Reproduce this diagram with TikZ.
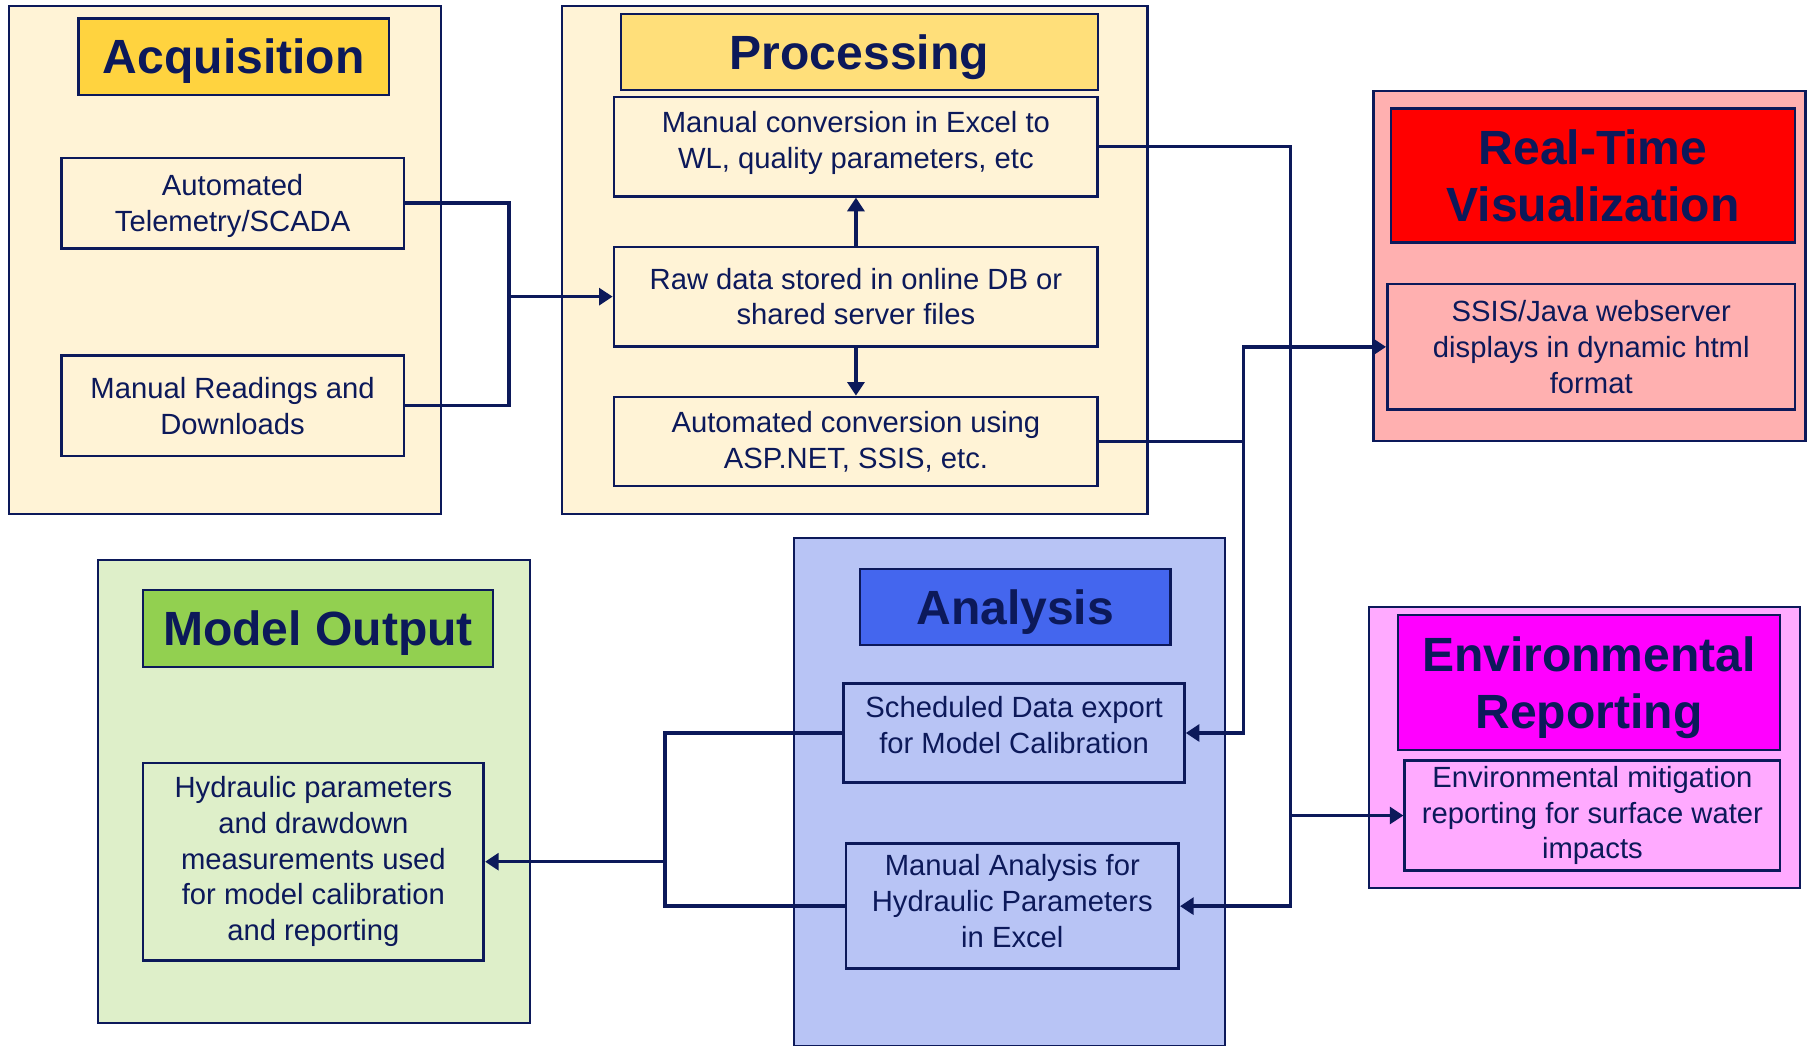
\documentclass[tikz,border=0pt]{standalone}
\usepackage{fontspec}
\setmainfont{Liberation Sans}
\usetikzlibrary{arrows.meta,positioning}

\definecolor{navy}{HTML}{0C195A}
\definecolor{cream}{HTML}{FFF3D6}
\definecolor{acqgold}{HTML}{FFD33F}
\definecolor{procgold}{HTML}{FFDF7A}
\definecolor{rtpink}{HTML}{FFB0B0}
\definecolor{rtred}{HTML}{FF0000}
\definecolor{envpink}{HTML}{FFAAFF}
\definecolor{envmag}{HTML}{FF00FF}
\definecolor{anlight}{HTML}{B8C4F5}
\definecolor{anblue}{HTML}{4466EE}
\definecolor{molight}{HTML}{DEEFC9}
\definecolor{mogreen}{HTML}{92D050}

\begin{document}
\begin{tikzpicture}[x=0.0125cm, y=-0.0125cm, every node/.style={text=navy},
    panel/.style={draw=navy, line width=0.7pt, inner sep=0pt},
    heading/.style={draw=navy, line width=0.7pt, inner sep=0pt, align=center, text depth=0pt, font=\fontsize{14.8}{17.7}\selectfont\bfseries},
    infobox/.style={draw=navy, line width=0.85pt, inner sep=0pt, align=center, font=\fontsize{9}{11}\selectfont},
    link/.style={draw=navy, line width=1.05pt},
    flow/.style={link, -{Triangle[length=4.2pt,width=5.2pt]}}]
            \useasboundingbox (0,0) rectangle (1568,906);

            % Panels
            \node[panel, fill=cream, minimum width=4.675cm, minimum height=5.5cm] (acq) at (195,225) {};
            \node[panel, fill=cream, minimum width=6.3375cm, minimum height=5.5cm] (proc) at (740.5,225) {};
            \node[panel, fill=rtpink, minimum width=4.675cm, minimum height=3.7875cm] (rt) at (1377,230.5) {};
            \node[panel, fill=envpink, minimum width=4.6625cm, minimum height=3.0375cm] (env) at (1372.5,647.5) {};
            \node[panel, fill=anlight, minimum width=4.6625cm, minimum height=5.5cm] (an) at (874.5,686) {};
            \node[panel, fill=molight, minimum width=4.675cm, minimum height=5.0125cm] (mo) at (272,685.5) {};

            % Headings
            \node[heading, fill=acqgold, minimum width=3.3625cm, minimum height=0.825cm] (acqT) at (202.5,49) {Acquisition};
            \node[heading, fill=procgold, minimum width=5.1625cm, minimum height=0.825cm] (procT) at (744.5,45) {Processing};
            \node[heading, fill=rtred, minimum width=4.375cm, minimum height=1.45cm] (rtT) at (1380,152) {Real-Time\\Visualization};
            \node[heading, fill=envmag, minimum width=4.1375cm, minimum height=1.4625cm] (envT) at (1376.5,591.5) {Environmental\\Reporting};
            \node[heading, fill=anblue, minimum width=3.3625cm, minimum height=0.825cm] (anT) at (879.5,526) {Analysis};
            \node[heading, fill=mogreen, minimum width=3.7875cm, minimum height=0.8375cm] (moT) at (275.5,544.5) {Model Output};

            % Acquisition
            \node[infobox, fill=cream, minimum width=3.7125cm, minimum height=0.975cm, text depth=0pt] (auto) at (201.5,176) {Automated\\Telemetry/SCADA};
            \node[infobox, fill=cream, minimum width=3.7125cm, minimum height=1.0875cm] (manual) at (201.5,351.5) {Manual Readings and\\Downloads};

            % Processing
            \node[infobox, fill=cream, minimum width=5.2375cm, minimum height=1.075cm, text depth=4.2pt] (manconv) at (741.5,127) {Manual conversion in Excel to\\WL, quality parameters, etc};
            \node[infobox, fill=cream, minimum width=5.2375cm, minimum height=1.075cm] (raw) at (741.5,257) {Raw data stored in online DB or\\shared server files};
            \node[infobox, fill=cream, minimum width=5.2375cm, minimum height=0.9625cm] (autoconv) at (741.5,382.5) {Automated conversion using\\ASP.NET, SSIS, etc.};

            % Outputs
            \node[infobox, fill=rtpink, minimum width=4.4125cm, minimum height=1.3625cm] (ssis) at (1378.5,300.5) {SSIS/Java webserver\\displays in dynamic html\\format};
            \node[infobox, fill=envpink, minimum width=4.0625cm, minimum height=1.1875cm] (envmit) at (1379.5,706.5) {Environmental mitigation\\reporting for surface water\\impacts};
            \node[infobox, fill=anlight, minimum width=3.6875cm, minimum height=1.075cm, text depth=5pt] (sched) at (878.5,635) {Scheduled Data export\\for Model Calibration};
            \node[infobox, fill=anlight, minimum width=3.6cm, minimum height=1.35cm, text depth=3.3pt] (manan) at (877,785) {Manual Analysis for\\Hydraulic Parameters\\in Excel};
            \node[infobox, fill=molight, minimum width=3.6875cm, minimum height=2.1375cm] (hydr) at (271.5,746.5) {Hydraulic parameters\\and drawdown\\measurements used\\for model calibration\\and reporting};

            % Junctions
            \coordinate (jA) at (441,257);
            \coordinate (jB) at (1118,785);
            \coordinate (jE) at (1118,706.5);
            \coordinate (jD) at (1077,382.5);
            \coordinate (jF) at (576,746.5);

            % Connectors
            \draw[link] (auto.east) -| (jA);
            \draw[link] (manual.east) -| (jA);
            \draw[flow] (jA) -- (raw.west);
            \draw[flow] (raw.north) -- (manconv.south);
            \draw[flow] (raw.south) -- (autoconv.north);
            \draw[flow] (manconv.east) -| (jB) -- (manan.east);
            \draw[flow] (jE) -- (envmit.west);
            \draw[link] (autoconv.east) -- (jD);
            \draw[flow] (jD) |- (ssis.west);
            \draw[flow] (jD) |- (sched.east);
            \draw[link] (sched.west) -| (jF);
            \draw[link] (manan.west) -| (jF);
            \draw[flow] (jF) -- (hydr.east);
\end{tikzpicture}
\end{document}
